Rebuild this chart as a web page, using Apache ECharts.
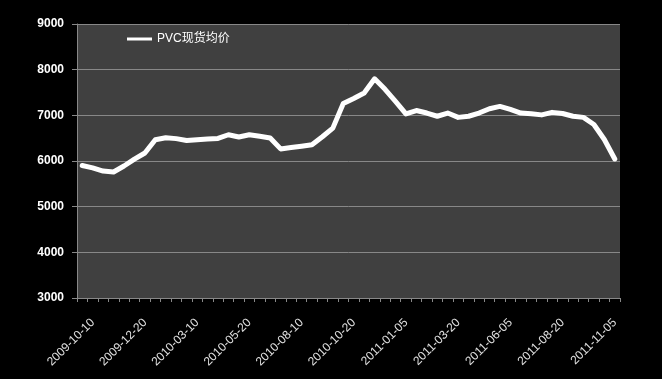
<!DOCTYPE html>
<html>
<head>
<meta charset="utf-8">
<script src="https://cdn.jsdelivr.net/npm/echarts@6/dist/echarts.min.js"></script>
<style>
html,body{margin:0;padding:0;background:#000;}
#c{width:662px;height:379px;}
</style>
</head>
<body>
<div id="c"></div>
<script>
const seriesName = 'PVC现货均价';
const categories = [
  '2009-10-10','2009-10-20','2009-11-05','2009-11-20','2009-12-05','2009-12-20',
  '2010-01-05','2010-01-20','2010-02-05','2010-03-01','2010-03-10','2010-03-20',
  '2010-04-05','2010-04-20','2010-05-05','2010-05-20','2010-06-05','2010-06-20',
  '2010-07-05','2010-07-20','2010-08-10','2010-08-20','2010-09-05','2010-09-20',
  '2010-10-10','2010-10-20','2010-11-05','2010-11-20','2010-12-05','2010-12-20',
  '2011-01-05','2011-01-20','2011-02-10','2011-02-20','2011-03-05','2011-03-20',
  '2011-04-05','2011-04-20','2011-05-05','2011-05-20','2011-06-05','2011-06-20',
  '2011-07-05','2011-07-20','2011-08-05','2011-08-20','2011-09-05','2011-09-20',
  '2011-10-10','2011-10-20','2011-11-05','2011-11-20'
];
const values = [
  5900,5850,5780,5760,5890,6040,
  6175,6465,6510,6490,6450,6465,
  6480,6495,6575,6525,6575,6540,
  6505,6265,6295,6325,6355,6530,
  6720,7260,7370,7490,7800,7570,
  7305,7030,7105,7050,6980,7050,
  6955,6980,7050,7145,7195,7130,
  7050,7035,7010,7065,7040,6980,
  6955,6800,6470,6045
];
const yMin = 3000, yMax = 9000, yStep = 1000;

const chart = echarts.init(document.getElementById('c'));
chart.setOption({
  backgroundColor: '#000000',
  animation: false,
  legend: {
    data: [{ name: seriesName, icon: 'rect' }],
    left: 127, top: 33, padding: 0,
    itemWidth: 25, itemHeight: 3, itemGap: 10,
    itemStyle: { color: '#ffffff' },
    textStyle: { color: '#ffffff', fontSize: 12, fontFamily: 'Liberation Sans, Noto Sans CJK SC' }
  },
  grid: {
    left: 77, right: 42, top: 24, bottom: 81,
    show: true, backgroundColor: '#404040', borderWidth: 0
  },
  xAxis: {
    type: 'category',
    data: categories,
    boundaryGap: true,
    axisLine: { lineStyle: { color: '#888888', width: 1 } },
    axisTick: { show: true, interval: 0, length: 4, lineStyle: { color: '#888888' } },
    axisLabel: {
      interval: 4, rotate: 45, margin: 12,
      verticalAlign: 'top', padding: [9, 0, 0, 0],
      color: '#e0e0e0', fontSize: 12, fontFamily: 'Liberation Sans'
    },
    splitLine: { show: false }
  },
  yAxis: {
    type: 'value',
    min: yMin, max: yMax, interval: yStep,
    axisLine: { show: true, lineStyle: { color: '#888888', width: 1 } },
    axisTick: { show: true, length: 5, lineStyle: { color: '#888888' } },
    axisLabel: {
      margin: 13, color: '#ffffff', fontSize: 12, fontWeight: 'bold', fontFamily: 'Liberation Sans',
      formatter: function (v) { return String(v); }
    },
    splitLine: { show: true, lineStyle: { color: '#888888', width: 1 } }
  },
  series: [{
    name: seriesName,
    type: 'line',
    data: values,
    symbol: 'none',
    smooth: false,
    lineStyle: { color: '#ffffff', width: 5, cap: 'round', join: 'round' },
    itemStyle: { color: '#ffffff' }
  }]
});
</script>
</body>
</html>
